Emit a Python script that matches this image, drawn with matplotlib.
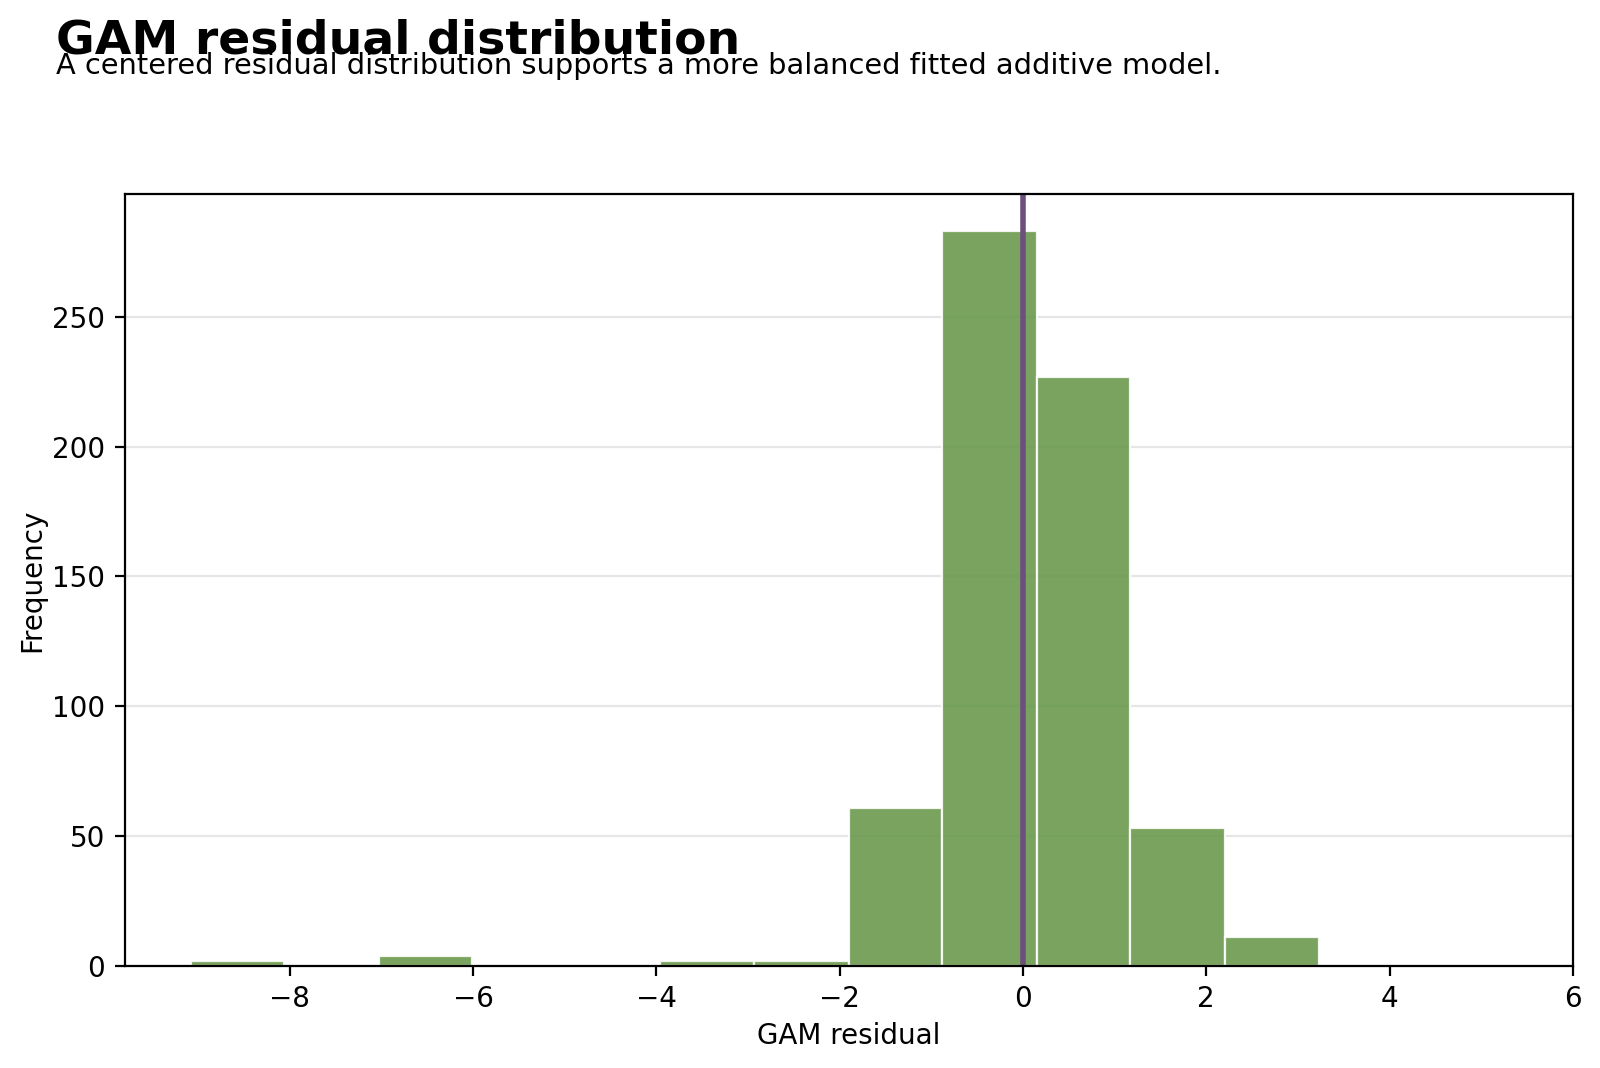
import numpy as np
import matplotlib
matplotlib.use("Agg")
import matplotlib.pyplot as plt

# histogram
bin_edges = [-9.08, -8.06, -7.03, -6.01, -4.99, -3.96, -2.93, -1.90, -0.88, 0.15, 1.17, 2.20, 3.23]
counts = [2, 0, 4, 0, 0, 2, 2, 61, 283, 227, 53, 11]
centers = [(a + b) / 2 for a, b in zip(bin_edges[:-1], bin_edges[1:])]

fig = plt.figure(figsize=(8, 5.34), dpi=200)
ax = fig.add_axes([0.078, 0.0955, 0.905, 0.7225])

ax.hist(centers, bins=bin_edges, weights=counts, color="#6a994e", alpha=0.9,
        edgecolor="white", linewidth=0.8)
ax.axvline(0, color="#6c4f7d", linewidth=2)

ax.set_xlim(-9.8, 6)
ax.set_xticks([-8, -6, -4, -2, 0, 2, 4, 6])
ax.set_yticks([0, 50, 100, 150, 200, 250])
ax.grid(axis="y", color="#e6e6e6", linewidth=0.8)
ax.set_axisbelow(True)
ax.tick_params(labelsize=10)
ax.set_xlabel("GAM residual", fontsize=10, labelpad=3.2)
ax.set_ylabel("Frequency", fontsize=10, labelpad=2)

fig.text(0.035, 0.983, "GAM residual distribution", fontsize=17, fontweight="bold", va="top")
fig.text(0.035, 0.951, "A centered residual distribution supports a more balanced fitted additive model.",
         fontsize=10.4, va="top")

fig.savefig("out.png", dpi=200)
